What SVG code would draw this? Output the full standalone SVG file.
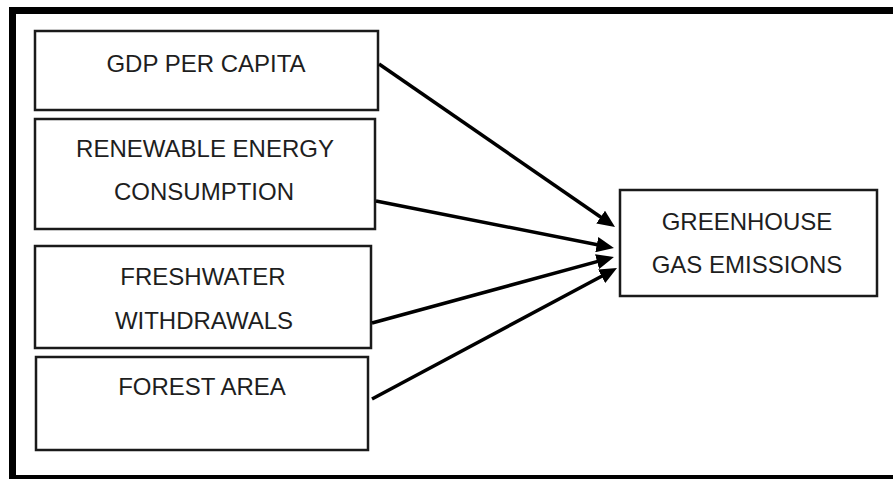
<svg xmlns="http://www.w3.org/2000/svg" width="893" height="479" viewBox="0 0 893 479">
<style>
.box{fill:#fff;stroke:#1a1a1a;stroke-width:2.5}
.t{font-family:"Liberation Sans",Arial,sans-serif;font-size:24px;fill:#1e1e1e;text-anchor:middle}
.c{stroke:#000;stroke-width:3.5;fill:none;marker-end:url(#ah)}
</style>
<defs>
<marker id="ah" markerWidth="5" markerHeight="4.4" refX="3.5" refY="2.2" orient="auto" markerUnits="strokeWidth" viewBox="0 0 5 4.4">
<path d="M0,0 L5,2.2 L0,4.4 z" fill="#000"/>
</marker>
</defs>
<rect width="893" height="479" fill="#fff"/>
<rect x="12.5" y="10.5" width="900" height="468" fill="none" stroke="#000" stroke-width="7"/>
<g id="gdp">
<rect class="box" x="35" y="31" width="343" height="79"/>
<text class="t" x="206" y="72">GDP PER CAPITA</text>
</g>
<g id="renewable">
<rect class="box" x="35" y="119" width="340" height="110"/>
<text class="t" x="205" y="157">RENEWABLE ENERGY</text>
<text class="t" x="204" y="200">CONSUMPTION</text>
</g>
<g id="freshwater">
<rect class="box" x="35" y="246" width="336" height="102"/>
<text class="t" x="203" y="285">FRESHWATER</text>
<text class="t" x="204" y="329">WITHDRAWALS</text>
</g>
<g id="forest">
<rect class="box" x="36" y="357" width="332" height="93"/>
<text class="t" x="202" y="395">FOREST AREA</text>
</g>
<g id="ghg">
<rect class="box" x="620" y="190" width="257" height="106"/>
<text class="t" x="747" y="230">GREENHOUSE</text>
<text class="t" x="747" y="273">GAS EMISSIONS</text>
</g>
<g id="connectors">
<line class="c" x1="379" y1="64" x2="610.7" y2="224"/>
<line class="c" x1="376" y1="201" x2="608.8" y2="247"/>
<line class="c" x1="372" y1="323" x2="608.9" y2="258.4"/>
<line class="c" x1="372" y1="399" x2="612.4" y2="270.5"/>
</g>
</svg>
